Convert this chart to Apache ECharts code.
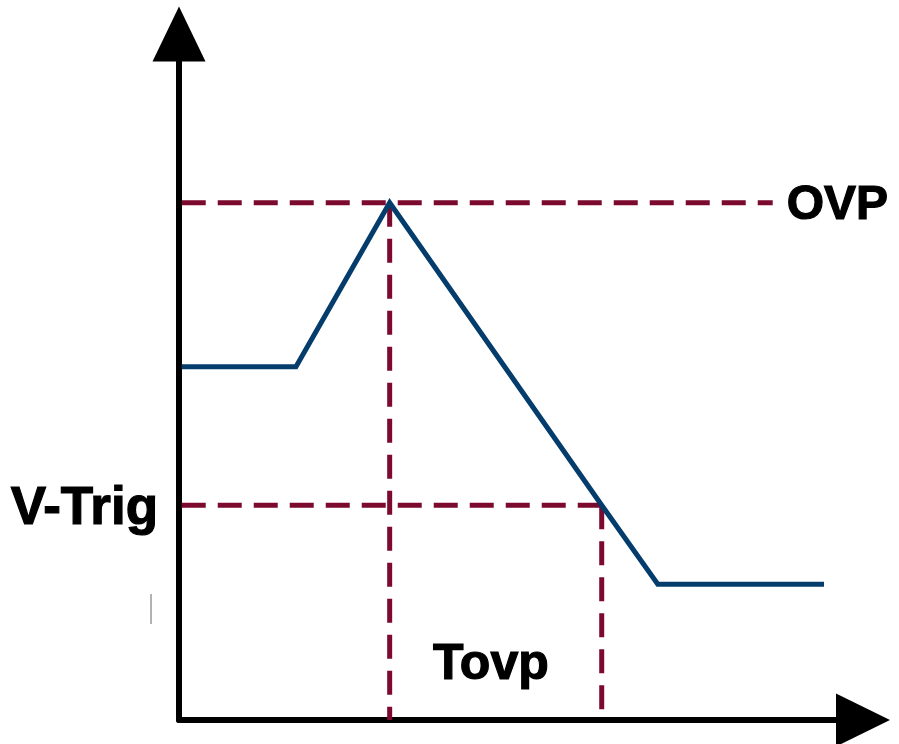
<!DOCTYPE html>
<html>
<head>
<meta charset="utf-8">
<script src="https://cdn.jsdelivr.net/npm/echarts@6/dist/echarts.min.js"></script>
<style>
html,body{margin:0;padding:0;background:#fff;}
#chart{width:899px;height:744px;}
</style>
</head>
<body>
<div id="chart"></div>
<script>
// Signal waveform (time units, voltage units)
var waveX = [0.04, 1.71, 3.08, 6.18, 7.00, 9.43];
var waveY = [5.15, 5.15, 7.54, 3.13, 1.98, 1.98];

// Reference levels / times
var ovpLevel = 7.54;
var trigLevel = 3.13;
var tPeak = 3.08;
var tTrig = 6.18;
var ovpLineEnd = 8.68;
var lineStart = 0.04;

// Labels
var labelNames = ['OVP', 'V-Trig', 'Tovp'];
var labelX = [ovpLineEnd, 0, 4.56];
var labelY = [7.50, 3.07, 0.80];
var labelPos = ['right', 'left', 'inside'];
var labelSize = [48, 53, 50];
var labelDist = [14, 21, 0];

var BLUE = '#043c6c';
var RED = '#7b0a2e';
var FONT = 'Liberation Sans, Arial, sans-serif';

function pairs(xs, ys) { return xs.map(function (x, i) { return [x, ys[i]]; }); }

var dashStyle = { color: RED, width: 5, type: [24, 12], cap: 'butt' };

var chart = echarts.init(document.getElementById('chart'), null, { renderer: 'canvas' });
chart.setOption({
  animation: false,
  backgroundColor: '#ffffff',
  grid: { left: 179, right: 36, top: 34, bottom: 24 },
  xAxis: {
    type: 'value', min: 0, max: 10,
    axisLine: { show: true, onZero: false, lineStyle: { color: '#000', width: 6 },
      symbol: ['none', 'triangle'], symbolSize: [53, 54] },
    axisTick: { show: false }, axisLabel: { show: false }, splitLine: { show: false }
  },
  yAxis: {
    type: 'value', min: 0, max: 10,
    axisLine: { show: true, onZero: false, lineStyle: { color: '#000', width: 6 },
      symbol: ['none', 'triangle'], symbolSize: [53, 55] },
    axisTick: { show: false }, axisLabel: { show: false }, splitLine: { show: false }
  },
  series: [
    { type: 'line', data: [[lineStart, ovpLevel], [ovpLineEnd, ovpLevel]], symbol: 'none', lineStyle: dashStyle, z: 2, silent: true },
    { type: 'line', data: [[tPeak, ovpLevel], [tPeak, 0]], symbol: 'none', lineStyle: dashStyle, z: 2, silent: true },
    { type: 'line', data: [[lineStart, trigLevel], [tTrig, trigLevel]], symbol: 'none', lineStyle: dashStyle, z: 2, silent: true },
    { type: 'line', data: [[tTrig, trigLevel], [tTrig, 0]], symbol: 'none', lineStyle: dashStyle, z: 2, silent: true },
    { type: 'line', data: pairs(waveX, waveY), symbol: 'none',
      lineStyle: { color: BLUE, width: 5, join: 'miter', cap: 'butt' }, z: 3, silent: true },
    { type: 'scatter', symbolSize: 0, silent: true, z: 4,
      itemStyle: { opacity: 1, color: 'rgba(0,0,0,0)' },
      data: labelNames.map(function (n, i) {
        return { value: [labelX[i], labelY[i]], name: n,
          itemStyle: { opacity: 1 },
          label: { show: true, position: labelPos[i], distance: labelDist[i],
            formatter: n, color: '#000000', opacity: 1, fontSize: labelSize[i], fontWeight: 'bold', fontFamily: FONT,
            textBorderColor: '#000000', textBorderWidth: 1.2 } };
      })
    }
  ],
  graphic: [
    { type: 'line', shape: { x1: 151, y1: 594, x2: 151, y2: 624 }, style: { stroke: '#999', lineWidth: 1.5 } }
  ]
});
</script>
</body>
</html>
